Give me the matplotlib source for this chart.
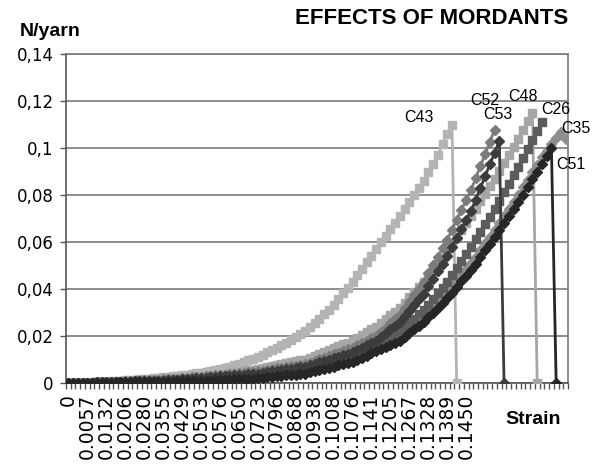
import numpy as np
import matplotlib
matplotlib.use("Agg")
from matplotlib import pyplot as plt

plt.rcParams['font.family'] = ['Liberation Sans', 'DejaVu Sans']

# strain labels, one every 4 categories
strain_labels = ['0', '0.0057', '0.0132', '0.0206', '0.0280', '0.0355', '0.0429',
                 '0.0503', '0.0576', '0.0650', '0.0723', '0.0796', '0.0868', '0.0938',
                 '0.1008', '0.1076', '0.1141', '0.1205', '0.1267', '0.1328', '0.1389',
                 '0.1450']
n_categories = 106
label_step = 4

yticks = [0, 0.02, 0.04, 0.06, 0.08, 0.1, 0.12, 0.14]
ytick_labels = ['0', '0,02', '0,04', '0,06', '0,08', '0,1', '0,12', '0,14']

# force per yarn (N) for each sample
c43 = [0.0000, 0.0001, 0.0001, 0.0002, 0.0002, 0.0003, 0.0004, 0.0005, 0.0006, 0.0007,
       0.0008, 0.0009, 0.0011, 0.0012, 0.0014, 0.0015, 0.0017, 0.0019, 0.0020, 0.0022,
       0.0024, 0.0026, 0.0028, 0.0030, 0.0033, 0.0035, 0.0038, 0.0041, 0.0044, 0.0047,
       0.0050, 0.0055, 0.0060, 0.0065, 0.0070, 0.0075, 0.0082, 0.0089, 0.0096, 0.0103,
       0.0110, 0.0120, 0.0130, 0.0140, 0.0150, 0.0160, 0.0172, 0.0184, 0.0196, 0.0208,
       0.0220, 0.0238, 0.0256, 0.0274, 0.0292, 0.0310, 0.0334, 0.0358, 0.0382, 0.0406,
       0.0430, 0.0458, 0.0486, 0.0514, 0.0542, 0.0570, 0.0598, 0.0626, 0.0654, 0.0682,
       0.0710, 0.0740, 0.0770, 0.0800, 0.0830, 0.0860, 0.0897, 0.0933, 0.0970, 0.1015,
       0.1060, 0.1100, 0.0000]

c52 = [0.0000, 0.0000, 0.0001, 0.0001, 0.0002, 0.0002, 0.0003, 0.0003, 0.0004, 0.0004,
       0.0005, 0.0006, 0.0007, 0.0008, 0.0009, 0.0010, 0.0011, 0.0012, 0.0013, 0.0014,
       0.0015, 0.0016, 0.0018, 0.0019, 0.0021, 0.0022, 0.0024, 0.0025, 0.0027, 0.0028,
       0.0030, 0.0032, 0.0034, 0.0036, 0.0038, 0.0040, 0.0042, 0.0044, 0.0046, 0.0048,
       0.0050, 0.0053, 0.0056, 0.0059, 0.0062, 0.0065, 0.0068, 0.0071, 0.0074, 0.0077,
       0.0080, 0.0087, 0.0094, 0.0101, 0.0108, 0.0115, 0.0122, 0.0129, 0.0136, 0.0143,
       0.0150, 0.0160, 0.0170, 0.0180, 0.0190, 0.0200, 0.0218, 0.0236, 0.0254, 0.0272,
       0.0290, 0.0318, 0.0346, 0.0374, 0.0402, 0.0430, 0.0466, 0.0502, 0.0538, 0.0574,
       0.0610, 0.0652, 0.0694, 0.0736, 0.0778, 0.0820, 0.0871, 0.0923, 0.0974, 0.1026,
       0.1077]

c53 = [0.0000, 0.0000, 0.0001, 0.0001, 0.0002, 0.0002, 0.0003, 0.0003, 0.0004, 0.0004,
       0.0005, 0.0005, 0.0006, 0.0006, 0.0007, 0.0007, 0.0008, 0.0008, 0.0009, 0.0009,
       0.0010, 0.0011, 0.0013, 0.0014, 0.0016, 0.0017, 0.0019, 0.0020, 0.0022, 0.0023,
       0.0025, 0.0027, 0.0028, 0.0030, 0.0031, 0.0033, 0.0034, 0.0036, 0.0037, 0.0039,
       0.0040, 0.0043, 0.0046, 0.0049, 0.0052, 0.0055, 0.0058, 0.0061, 0.0064, 0.0067,
       0.0070, 0.0076, 0.0082, 0.0088, 0.0094, 0.0100, 0.0106, 0.0112, 0.0118, 0.0124,
       0.0130, 0.0140, 0.0150, 0.0160, 0.0170, 0.0180, 0.0196, 0.0212, 0.0228, 0.0244,
       0.0260, 0.0284, 0.0308, 0.0332, 0.0356, 0.0380, 0.0412, 0.0444, 0.0476, 0.0508,
       0.0540, 0.0578, 0.0616, 0.0654, 0.0692, 0.0730, 0.0780, 0.0830, 0.0880, 0.0930,
       0.0980, 0.1030, 0.0000]

c48 = [0.0000, 0.0000, 0.0001, 0.0001, 0.0002, 0.0002, 0.0003, 0.0003, 0.0004, 0.0004,
       0.0005, 0.0006, 0.0007, 0.0008, 0.0009, 0.0010, 0.0011, 0.0012, 0.0013, 0.0014,
       0.0015, 0.0017, 0.0018, 0.0020, 0.0021, 0.0023, 0.0024, 0.0026, 0.0027, 0.0029,
       0.0030, 0.0033, 0.0036, 0.0039, 0.0042, 0.0045, 0.0048, 0.0051, 0.0054, 0.0057,
       0.0060, 0.0064, 0.0068, 0.0072, 0.0076, 0.0080, 0.0084, 0.0088, 0.0092, 0.0096,
       0.0100, 0.0108, 0.0116, 0.0124, 0.0132, 0.0140, 0.0148, 0.0156, 0.0164, 0.0172,
       0.0180, 0.0192, 0.0204, 0.0216, 0.0228, 0.0240, 0.0256, 0.0272, 0.0288, 0.0304,
       0.0320, 0.0342, 0.0364, 0.0386, 0.0408, 0.0430, 0.0456, 0.0482, 0.0508, 0.0534,
       0.0560, 0.0590, 0.0620, 0.0650, 0.0680, 0.0710, 0.0742, 0.0774, 0.0806, 0.0838,
       0.0870, 0.0904, 0.0938, 0.0972, 0.1006, 0.1040, 0.1077, 0.1113, 0.1150, 0.0000]

c26 = [0.0000, 0.0000, 0.0001, 0.0001, 0.0002, 0.0002, 0.0003, 0.0003, 0.0004, 0.0004,
       0.0005, 0.0005, 0.0006, 0.0006, 0.0007, 0.0007, 0.0008, 0.0008, 0.0009, 0.0009,
       0.0010, 0.0011, 0.0012, 0.0013, 0.0014, 0.0015, 0.0016, 0.0017, 0.0018, 0.0019,
       0.0020, 0.0021, 0.0022, 0.0023, 0.0024, 0.0025, 0.0026, 0.0027, 0.0028, 0.0029,
       0.0030, 0.0032, 0.0034, 0.0036, 0.0038, 0.0040, 0.0042, 0.0044, 0.0046, 0.0048,
       0.0050, 0.0056, 0.0062, 0.0068, 0.0074, 0.0080, 0.0086, 0.0092, 0.0098, 0.0104,
       0.0110, 0.0120, 0.0130, 0.0140, 0.0150, 0.0160, 0.0172, 0.0184, 0.0196, 0.0208,
       0.0220, 0.0238, 0.0256, 0.0274, 0.0292, 0.0310, 0.0334, 0.0358, 0.0382, 0.0406,
       0.0430, 0.0460, 0.0490, 0.0520, 0.0550, 0.0580, 0.0612, 0.0644, 0.0676, 0.0708,
       0.0740, 0.0776, 0.0812, 0.0848, 0.0884, 0.0920, 0.0958, 0.0996, 0.1034, 0.1072,
       0.1110]

c35 = [0.0000, 0.0000, 0.0001, 0.0001, 0.0002, 0.0002, 0.0003, 0.0003, 0.0004, 0.0004,
       0.0005, 0.0005, 0.0006, 0.0006, 0.0007, 0.0007, 0.0008, 0.0008, 0.0009, 0.0009,
       0.0010, 0.0011, 0.0012, 0.0013, 0.0014, 0.0015, 0.0016, 0.0017, 0.0018, 0.0019,
       0.0020, 0.0021, 0.0022, 0.0023, 0.0024, 0.0025, 0.0026, 0.0027, 0.0028, 0.0029,
       0.0030, 0.0032, 0.0034, 0.0036, 0.0038, 0.0040, 0.0042, 0.0044, 0.0046, 0.0048,
       0.0050, 0.0055, 0.0060, 0.0065, 0.0070, 0.0075, 0.0080, 0.0085, 0.0090, 0.0095,
       0.0100, 0.0110, 0.0120, 0.0130, 0.0140, 0.0150, 0.0160, 0.0170, 0.0180, 0.0190,
       0.0200, 0.0216, 0.0232, 0.0248, 0.0264, 0.0280, 0.0302, 0.0324, 0.0346, 0.0368,
       0.0390, 0.0414, 0.0438, 0.0462, 0.0486, 0.0510, 0.0538, 0.0566, 0.0594, 0.0622,
       0.0650, 0.0680, 0.0710, 0.0740, 0.0770, 0.0800, 0.0832, 0.0864, 0.0896, 0.0928,
       0.0960, 0.0988, 0.1015, 0.1043, 0.1070, 0.1040]

c51 = [0.0000, 0.0000, 0.0001, 0.0001, 0.0001, 0.0001, 0.0002, 0.0002, 0.0002, 0.0002,
       0.0003, 0.0003, 0.0003, 0.0003, 0.0004, 0.0004, 0.0004, 0.0004, 0.0005, 0.0005,
       0.0005, 0.0006, 0.0006, 0.0007, 0.0007, 0.0008, 0.0008, 0.0009, 0.0009, 0.0010,
       0.0010, 0.0011, 0.0012, 0.0013, 0.0014, 0.0015, 0.0016, 0.0017, 0.0018, 0.0019,
       0.0020, 0.0022, 0.0024, 0.0026, 0.0028, 0.0030, 0.0032, 0.0034, 0.0036, 0.0038,
       0.0040, 0.0045, 0.0050, 0.0055, 0.0060, 0.0065, 0.0070, 0.0075, 0.0080, 0.0085,
       0.0090, 0.0099, 0.0108, 0.0117, 0.0126, 0.0135, 0.0144, 0.0153, 0.0162, 0.0171,
       0.0180, 0.0196, 0.0212, 0.0228, 0.0244, 0.0260, 0.0280, 0.0300, 0.0320, 0.0340,
       0.0360, 0.0384, 0.0408, 0.0432, 0.0456, 0.0480, 0.0508, 0.0536, 0.0564, 0.0592,
       0.0620, 0.0650, 0.0680, 0.0710, 0.0740, 0.0770, 0.0802, 0.0834, 0.0866, 0.0898,
       0.0930, 0.0965, 0.1000, 0.0000]

# name, values, colour, marker, label offset (points) from the peak
series = [
    ('C43', c43, '#b4b4b4', 's', (-24, 5)),
    ('C48', c48, '#a6a6a6', 's', (-7, 12)),
    ('C35', c35, '#8e8e8e', 'D', (11, 2)),
    ('C52', c52, '#7c7c7c', 'D', (-7, 21)),
    ('C26', c26, '#5c5c5c', 's', (10, 9)),
    ('C53', c53, '#3c3c3c', 'D', (-1, 19)),
    ('C51', c51, '#262626', 'D', (14, -12)),
]

fig = plt.figure(figsize=(5.93, 4.68), dpi=100)
ax = fig.add_axes([66 / 593, 1 - 383 / 468, 502 / 593, 329 / 468])

for name, vals, col, mk, off in series:
    x = np.arange(len(vals))
    ms = 5.8 if mk == 's' else 5.2
    ax.plot(x, vals, color=col, lw=2, marker=mk, ms=ms, mec=col, mfc=col, zorder=3)
    ipk = int(np.argmax(vals))
    ax.annotate(name, xy=(ipk, vals[ipk]), xytext=off, textcoords='offset points',
                ha='center', va='center', fontsize=11.5, color='black')

ax.set_xlim(-0.5, n_categories - 0.5)
ax.set_ylim(0, 0.14)
ax.set_yticks(yticks)
ax.set_yticklabels(ytick_labels, fontsize=12, family='DejaVu Sans')
ax.grid(axis='y', color='#7a7a7a', lw=1.2)
ax.set_axisbelow(True)

label_pos = np.arange(len(strain_labels)) * label_step
ax.set_xticks(label_pos)
ax.set_xticklabels(strain_labels, rotation=90, fontsize=13.5, family='DejaVu Sans')
ax.set_xticks(np.arange(n_categories + 1) - 0.5, minor=True)
ax.tick_params(axis='x', which='major', length=0, pad=8)
ax.tick_params(axis='x', which='minor', length=4, width=1, color='#555555')
ax.tick_params(axis='y', length=4, width=1, color='#555555', pad=5)

for s in ax.spines.values():
    s.set_color('#7a7a7a')
    s.set_linewidth(1.2)
ax.spines['left'].set_color('#555555')
ax.spines['bottom'].set_color('#555555')

fig.text(432 / 593, 1 - 19 / 468, 'EFFECTS OF MORDANTS', ha='center', va='center',
         fontsize=16, fontweight='bold')
fig.text(50 / 593, 1 - 31 / 468, 'N/yarn', ha='center', va='center',
         fontsize=14, fontweight='bold')
fig.text(533 / 593, 1 - 420 / 468, 'Strain', ha='center', va='center',
         fontsize=14, fontweight='bold')

fig.savefig('out.png', dpi=100)
